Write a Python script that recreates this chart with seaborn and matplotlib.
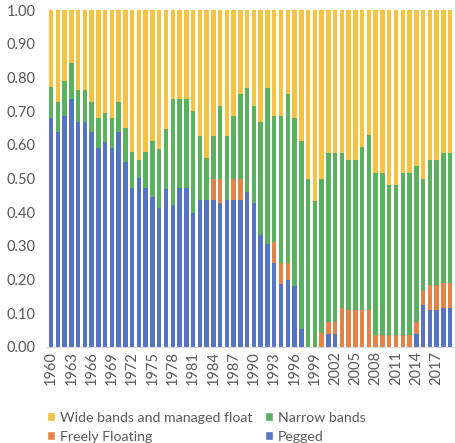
import numpy as np
import matplotlib
matplotlib.use("Agg")
import matplotlib.pyplot as plt
import seaborn as sns
from matplotlib.patches import Patch

years = list(range(1960, 2020))

pegged = [0.681, 0.637, 0.685, 0.736, 0.667, 0.667, 0.637, 0.591, 0.608, 0.591,
          0.637, 0.549, 0.473, 0.501, 0.473, 0.445, 0.411, 0.469, 0.421, 0.473,
          0.473, 0.398, 0.437, 0.437, 0.437, 0.428, 0.437, 0.437, 0.437, 0.460,
          0.428, 0.332, 0.306, 0.249, 0.186, 0.198, 0.181, 0.054, 0.000, 0.000,
          0.000, 0.037, 0.037, 0.000, 0.000, 0.000, 0.000, 0.000, 0.000, 0.000,
          0.000, 0.000, 0.000, 0.000, 0.037, 0.124, 0.109, 0.109, 0.114, 0.114]

floating = [0, 0, 0, 0, 0, 0, 0, 0, 0, 0,
            0, 0, 0, 0, 0, 0, 0, 0, 0, 0,
            0, 0, 0, 0, 0.063, 0.072, 0, 0.063, 0.063, 0,
            0, 0, 0, 0.062, 0.063, 0.051, 0, 0, 0, 0,
            0.040, 0.037, 0.037, 0.114, 0.109, 0.109, 0.109, 0.109, 0.035, 0.035,
            0.035, 0.035, 0.035, 0.035, 0.037, 0.041, 0.074, 0.074, 0.075, 0.075]

narrow = [0.091, 0.090, 0.104, 0.108, 0.095, 0.095, 0.090, 0.090, 0.086, 0.090,
          0.090, 0.101, 0.105, 0.053, 0.105, 0.166, 0.176, 0.178, 0.315, 0.263,
          0.263, 0.302, 0.189, 0.125, 0.126, 0.215, 0.189, 0.187, 0.250, 0.310,
          0.287, 0.335, 0.464, 0.376, 0.438, 0.501, 0.500, 0.557, 0.500, 0.433,
          0.460, 0.501, 0.501, 0.461, 0.445, 0.445, 0.484, 0.520, 0.482, 0.482,
          0.445, 0.445, 0.482, 0.482, 0.464, 0.335, 0.371, 0.371, 0.386, 0.386]

wide = [0.228, 0.273, 0.211, 0.156, 0.238, 0.238, 0.273, 0.319, 0.306, 0.319,
        0.273, 0.350, 0.422, 0.446, 0.422, 0.389, 0.413, 0.353, 0.264, 0.264,
        0.264, 0.300, 0.374, 0.438, 0.374, 0.285, 0.374, 0.313, 0.250, 0.230,
        0.285, 0.333, 0.230, 0.313, 0.313, 0.250, 0.319, 0.389, 0.500, 0.567,
        0.500, 0.425, 0.425, 0.425, 0.446, 0.446, 0.407, 0.371, 0.483, 0.483,
        0.520, 0.520, 0.483, 0.483, 0.462, 0.500, 0.446, 0.446, 0.425, 0.425]

series_names = ["Pegged", "Freely Floating", "Narrow bands", "Wide bands and managed float"]
colors = {"Pegged": "#5574C4", "Freely Floating": "#E2844A",
          "Narrow bands": "#5BB15F", "Wide bands and managed float": "#F5C344"}

sns.set_theme(style="white")
plt.rcParams['font.family'] = ['Lato', 'DejaVu Sans']

fig = plt.figure(figsize=(4.56, 4.43), dpi=100)
ax = fig.add_axes([0.103, 0.217, 0.893, 0.760])

xlabels = [str(y) for y in years]
bottom = np.zeros(len(years))
for name, vals in zip(series_names, [pegged, floating, narrow, wide]):
    vals = np.array(vals, dtype=float)
    sns.barplot(x=xlabels, y=vals, color=colors[name], saturation=1,
                width=0.66, errorbar=None, bottom=bottom, ax=ax, linewidth=0)
    bottom = bottom + vals

ax.set_ylim(0, 1.0)
ax.set_xlim(-0.6, len(years) - 0.4)
ax.set_yticks(np.arange(0, 1.01, 0.1))
ax.set_yticklabels([f"{v:.2f}" for v in np.arange(0, 1.01, 0.1)], fontsize=10.5, color="#595959")
ticks = list(range(0, len(years), 3))
ax.set_xticks(ticks)
ax.set_xticklabels([xlabels[i] for i in ticks], rotation=90, fontsize=10.5, color="#595959")
ax.tick_params(axis="both", length=0, pad=3)
ax.tick_params(axis="y", pad=8)
ax.set_xlabel("")
ax.set_ylabel("")
for s in ["top", "right", "left"]:
    ax.spines[s].set_visible(False)
ax.spines["bottom"].set_color("#D9D9D9")
ax.spines["bottom"].set_linewidth(0.8)

handles = [Patch(facecolor=colors["Wide bands and managed float"]),
           Patch(facecolor=colors["Freely Floating"]),
           Patch(facecolor=colors["Narrow bands"]),
           Patch(facecolor=colors["Pegged"])]
labels = ["Wide bands and managed float", "Freely Floating", "Narrow bands", "Pegged"]
fig.legend(handles, labels, ncol=2, loc="lower left", bbox_to_anchor=(0.075, -0.028),
           frameon=False, fontsize=10.2, handlelength=0.6, handleheight=0.6,
           handletextpad=0.3, columnspacing=0.9, labelspacing=0.5, labelcolor="#595959")

fig.savefig("out.png", dpi=100)
